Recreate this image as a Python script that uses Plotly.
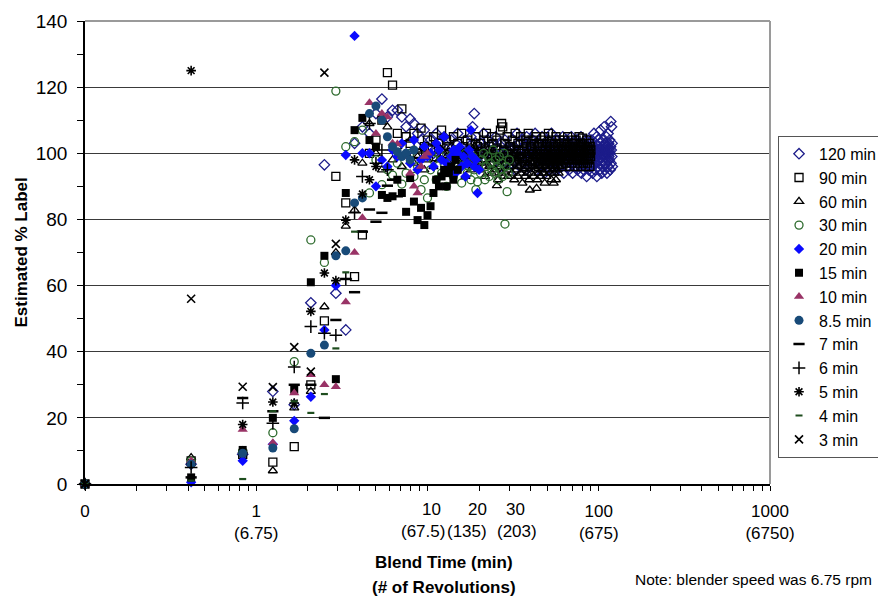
import math
import plotly.graph_objects as go

# ---------------- data ----------------
SAMPLE_INTERVAL_MIN = 5 / 12      # samples every 25 s
ZERO_POS = 0.1                    # time 0 is shown at the left end of the log axis (label "0")

series_names = ["120 min", "90 min", "60 min", "30 min", "20 min", "15 min", "10 min",
                "8.5 min", "7 min", "6 min", "5 min", "4 min", "3 min"]

values_120 = [0, 6, 9, 28, 24, 54.8, 96.5, 57.7, 46.6,
              103, 108, 106, 112, 116.4, 111, 113, 113, 111, 108, 110.4, 109, 106, 104, 107, 102,
              104, 100, 106, 103, 99, 105, 101, 98, 104, 100, 103, 106, 99, 102, 97, 104, 101, 100, 105, 108, 112, 103, 99, 101,
              103, 100, 106, 102, 98, 104, 101, 97, 103, 99, 100, 105, 102, 98, 101, 96, 103, 100, 99, 104, 97, 101, 100, 98,
              101, 97, 104, 99, 102, 95, 100, 106, 98, 103, 96, 101,
              99, 104, 97, 102, 100, 95, 105, 98, 101, 103, 96, 100,
              102, 98, 104, 97, 100, 106, 99, 95, 101, 103, 98, 100,
              97, 102, 99, 105, 96, 101, 100, 94, 103, 98, 102, 99,
              104, 97, 100, 95, 102, 99, 106, 98, 101, 96, 103, 100,
              98, 102, 95, 100, 104, 97, 101, 99, 96, 103, 100, 98,
              102, 96, 100, 105, 98, 94, 101, 103, 97, 100, 99, 104,
              96, 101, 98, 103, 95, 100, 102, 97, 99, 105, 98, 101,
              94, 100, 103, 97, 101, 99, 96, 102, 98, 104, 100, 95,
              101, 97, 103, 99, 100, 96, 102, 98, 105, 94, 101, 99,
              97, 103, 100, 95, 102, 98, 101, 104, 96, 100, 99, 93,
              102, 97, 100, 104, 98, 95, 101, 99, 103, 96, 100, 98,
              101, 96, 104, 99, 94, 102, 98, 100, 106, 97, 101, 95,
              103, 99, 100, 97, 105, 93, 101, 98, 102, 96, 104, 100,
              98, 101, 95, 103, 99, 107, 97, 100, 102, 94, 101, 98,
              104, 99, 96, 102, 100, 108, 97, 101, 95, 103, 99, 100,
              97, 105, 101, 94, 102, 98, 100, 106, 96, 103, 99, 101,
              98, 104, 100, 95, 102, 109.6, 97, 101, 108, 99, 103, 96]

values_90 = [0, 7, 9, 6.6, 11.3, 30, 49.3, 93, 85, 62.7, 75.3,
             100, 104, 110, 124.4, 120.6, 106, 113.4, 105, 103, 106, 100, 107.6, 102, 104,
             101, 105, 99, 103, 107, 100, 104, 102, 98, 105, 101, 103, 99, 106, 102, 100, 104, 97, 103, 101, 99, 105, 102, 100,
             103, 98, 104, 101, 106, 100, 102, 97, 105, 103, 99, 101, 104, 100, 98, 107, 109, 108, 101, 103, 99, 105, 100, 102,
             102, 99, 104, 98, 101, 106, 100, 97, 103, 101, 99, 105,
             100, 98, 103, 101, 96, 104, 102, 99, 106, 100, 97, 102,
             101, 104, 98, 100, 103, 97, 105, 99, 102, 100, 96, 103,
             99, 101, 104, 98, 102, 100, 97, 105, 101, 99, 103, 98,
             100, 106, 97, 102, 99, 101, 104, 98, 100, 103, 96, 101,
             99, 102, 105, 98, 100, 97, 103, 101, 99, 104, 100, 98,
             102, 99, 101, 96, 104, 100, 98, 103, 101, 97, 100, 102,
             99, 105, 98, 101, 100, 96, 103, 99, 102, 100, 97, 104,
             101, 98, 100, 103, 99, 96, 102, 100, 104, 98, 101, 99,
             97, 102, 100, 105, 98, 101, 99, 103, 96, 100, 102, 98,
             104.6, 99, 101, 97, 103, 100, 98, 102, 96, 101, 99, 104,
             100, 97, 102, 99, 101, 98, 103, 100, 96, 102, 99, 101]

values_60 = [0, 8, 10, 4, 23, 28, 53.6, 70, 78, 82.8, 97,
             109, 100, 95, 108, 98, 102, 96, 100, 104, 97, 99, 101, 95, 98,
             100, 96, 103, 98, 101, 94, 99, 97, 102, 95, 100, 98, 96, 101, 99, 93, 97, 100, 95, 98, 102, 96, 99, 97,
             95, 100, 98, 93, 97, 101, 96, 99, 94, 98, 100, 95, 90.2, 92, 99, 96, 94, 98, 93, 97, 100, 95, 93, 98,
             96, 99, 94, 97, 92, 100, 95, 98, 93, 96, 99, 94, 97, 91, 95, 98, 93, 96, 100, 94, 97, 92, 88.9, 98,
             94, 97, 99, 93, 96, 100, 95, 89.4, 92, 97, 94, 99, 96, 93, 98, 95, 100, 94, 97, 91, 96, 99, 93, 98,
             95, 97, 100, 94, 98, 96, 92, 99, 95, 97, 91, 94, 98, 96, 92, 99, 95, 97, 100, 94, 98, 96, 99, 97]

values_30 = [0, 7, 10, 15.5, 37, 73.8, 67, 118.8, 102, 103.5, 107,
             88, 98, 90.5, 95, 93.4, 97, 90.7, 94, 100, 93, 96, 89, 92, 86.5,
             95, 98, 92, 100, 94, 97, 90, 96, 99, 93, 101, 95, 98, 91, 97, 100, 94, 96, 92, 99, 95, 89, 91.4, 97,
             94, 98, 100, 92, 96, 99, 93, 97, 95, 101, 94, 98, 96, 92, 99, 95, 97, 93, 100, 78.6, 96, 88.4, 94, 98]

values_20 = [0, 0.5, 7, 12, 19.1, 26.4, 46.6, 60, 99.5, 135.5, 100, 100, 90, 98, 96, 101, 99, 103, 100, 97,
             104, 95, 98, 102, 99, 100, 96, 103, 101, 98, 105, 97, 95, 99, 101, 94, 100, 102, 96, 99,
             93, 97, 101, 107, 99, 96, 98, 88, 95]

values_15 = [0, 2, 10.3, 20, 28.5, 61, 69, 31.7, 88, 107, 110.7, 104, 102, 87.4, 86.5, 87, 92, 88, 82.3,
             92.5, 85.4, 79.8, 83.5, 78.3, 81.3, 84, 88, 92, 90, 93, 95, 90, 94, 96, 92, 98, 95]

values_10 = [0, 7, 16.5, 12.5, 27.5, 33, 30, 29.4, 55, 70, 80.5, 115.3, 106, 112, 111, 103, 102.8, 99, 99,
             94, 90, 88, 96, 99, 100]

values_8_5 = [0, 6, 9.3, 10.9, 16.7, 39.5, 42, 69, 70.5, 85, 86.5, 112, 114.3, 110, 105, 102, 100.5, 99, 100, 98, 101]

values_7 = [0, 2, 26, 22, 30, 30, 20, 49.6, 62, 58, 76.3, 83, 79.3, 82, 90.2, 92, 87]

values_6 = [0, 5, 24.5, 18.4, 35.4, 47.6, 45.6, 45, 62, 82, 93, 109, 97, 101, 95]

values_5 = [0, 125, 18, 24.8, 24.5, 52.2, 63.8, 61.5, 79.8, 98, 87.7, 92, 96]

values_4 = [0, 1, 1.5, 22, 25, 21.5, 27.2, 41, 64, 76.3]

values_3 = [0, 56, 29.4, 29.3, 41.4, 34, 124.4, 72.6]

all_values = [values_120, values_90, values_60, values_30, values_20, values_15, values_10,
              values_8_5, values_7, values_6, values_5, values_4, values_3]

# axis ticks: minutes, with revolutions (6.75 rpm) underneath
x_tick_vals = [0.1, 1, 10, 20, 30, 100, 1000]
x_tick_min_text = ["0", "1", "10", "20", "30", "100", "1000"]
x_tick_rev_text = ["", "(6.75)", "(67.5)", "(135)", "(203)", "(675)", "(6750)"]
# the crowded 10/20/30 labels are nudged apart (pixels), as in the original figure
crowded_ticks = {10: (4, -5), 20: (-2, -12), 30: (6, 8)}

# ---------------- styles ----------------
styles = [
    dict(symbol="diamond-open", color="#1c1c8a", size=8, lw=1.3),
    dict(symbol="square-open", color="#000000", size=8, lw=1.3),
    dict(symbol="triangle-up-open", color="#000000", size=8, lw=1.3),
    dict(symbol="circle-open", color="#2e6b2e", size=8, lw=1.3),
    dict(symbol="diamond", color="#0a0aff", size=8, lw=0),
    dict(symbol="square", color="#000000", size=8, lw=0),
    dict(symbol="triangle-up", color="#993366", size=9, lw=0),
    dict(symbol="circle", color="#184a78", size=9, lw=0),
    dict(symbol="line-ew-open", color="#000000", size=8, lw=2.5),
    dict(symbol="cross-thin-open", color="#000000", size=9, lw=1.5),
    dict(symbol="asterisk-open", color="#000000", size=8, lw=1.6),
    dict(symbol="line-ew-open", color="#1e4d1e", size=5, lw=2.2),
    dict(symbol="x-thin-open", color="#000000", size=8, lw=1.6),
]

FONT = "Liberation Sans, Arial, Helvetica, sans-serif"
TICK_FONT = 17

fig = go.Figure()
for name, vals, st in zip(series_names, all_values, styles):
    times = [ZERO_POS] + [k * SAMPLE_INTERVAL_MIN for k in range(1, len(vals))]
    fig.add_trace(go.Scatter(
        x=times, y=vals, mode="markers", name=name, cliponaxis=False,
        marker=dict(symbol=st["symbol"], color=st["color"], size=st["size"],
                    line=dict(color=st["color"], width=st["lw"])),
    ))

minor_vals = []
for dec in [0.1, 1, 10, 100]:
    for m in range(2, 10):
        v = round(dec * m, 6)
        if v not in x_tick_vals:
            minor_vals.append(v)

tick_text = []
annotations = []
for v, t1, t2 in zip(x_tick_vals, x_tick_min_text, x_tick_rev_text):
    if v in crowded_ticks:
        tick_text.append("")
        s1, s2 = crowded_ticks[v]
        annotations.append(dict(text=t1, xref="x", yref="paper", x=math.log10(v), y=-0.056,
                                xshift=s1, showarrow=False, xanchor="center", yanchor="middle",
                                font=dict(size=TICK_FONT, family=FONT)))
        annotations.append(dict(text=t2, xref="x", yref="paper", x=math.log10(v), y=-0.1035,
                                xshift=s2, showarrow=False, xanchor="center", yanchor="middle",
                                font=dict(size=TICK_FONT, family=FONT)))
    else:
        tick_text.append(t1 if not t2 else t1 + "<br>" + t2)

annotations += [
    dict(text="<b>Estimated % Label</b>", xref="paper", yref="paper", x=-0.092, y=0.5,
         textangle=-90, showarrow=False, font=dict(size=17, family=FONT),
         xanchor="center", yanchor="middle"),
    dict(text="<b>Blend Time (min)</b>", xref="paper", yref="paper", x=0.524, y=-0.1685,
         showarrow=False, font=dict(size=17, family=FONT), xanchor="center", yanchor="middle"),
    dict(text="<b>(# of Revolutions)</b>", xref="paper", yref="paper", x=0.524, y=-0.2225,
         showarrow=False, font=dict(size=17, family=FONT), xanchor="center", yanchor="middle"),
    dict(text="Note: blender speed was 6.75 rpm", xref="paper", yref="paper", x=1.1518, y=-0.2073,
         showarrow=False, font=dict(size=15.5, family=FONT), xanchor="right", yanchor="middle"),
]

fig.update_layout(
    width=878, height=597,
    margin=dict(l=85, r=108, t=21, b=113, autoexpand=False),
    plot_bgcolor="white", paper_bgcolor="white",
    font=dict(family=FONT, color="black", size=17),
    showlegend=True,
    legend=dict(
        x=1.0117, y=0.752, xanchor="left", yanchor="top",
        bordercolor="#555555", borderwidth=1, bgcolor="white",
        font=dict(size=16, family=FONT), tracegroupgap=0,
    ),
    xaxis=dict(
        type="log", range=[-1, 3],
        tickmode="array", tickvals=x_tick_vals, ticktext=tick_text,
        tickangle=0,
        ticks="outside", ticklen=5, tickcolor="black", tickwidth=1,
        showline=True, linecolor="black", linewidth=1.5,
        showgrid=False, zeroline=False,
        tickfont=dict(size=TICK_FONT, family=FONT),
        ticklabelstandoff=6,
        minor=dict(tickmode="array", tickvals=minor_vals, ticks="outside", ticklen=5,
                   tickcolor="black", tickwidth=1, showgrid=False),
    ),
    yaxis=dict(
        range=[0, 140], tickmode="linear", tick0=0, dtick=20,
        ticks="outside", ticklen=6, tickcolor="black", tickwidth=1,
        showline=True, linecolor="black", linewidth=1.5,
        showgrid=True, gridcolor="#3a3a3a", gridwidth=1.3, zeroline=False,
        tickfont=dict(size=19, family=FONT),
        ticklabelstandoff=6,
        minor=dict(dtick=10, ticks="outside", ticklen=6, tickcolor="black", tickwidth=1, showgrid=False),
    ),
    shapes=[
        dict(type="line", xref="paper", yref="paper", x0=0, x1=1, y0=1, y1=1,
             line=dict(color="#9a9a9a", width=2), layer="above"),
        dict(type="line", xref="paper", yref="paper", x0=1, x1=1, y0=0, y1=1,
             line=dict(color="#9a9a9a", width=2), layer="above"),
    ],
    annotations=annotations,
)

fig.write_html("out.html")
